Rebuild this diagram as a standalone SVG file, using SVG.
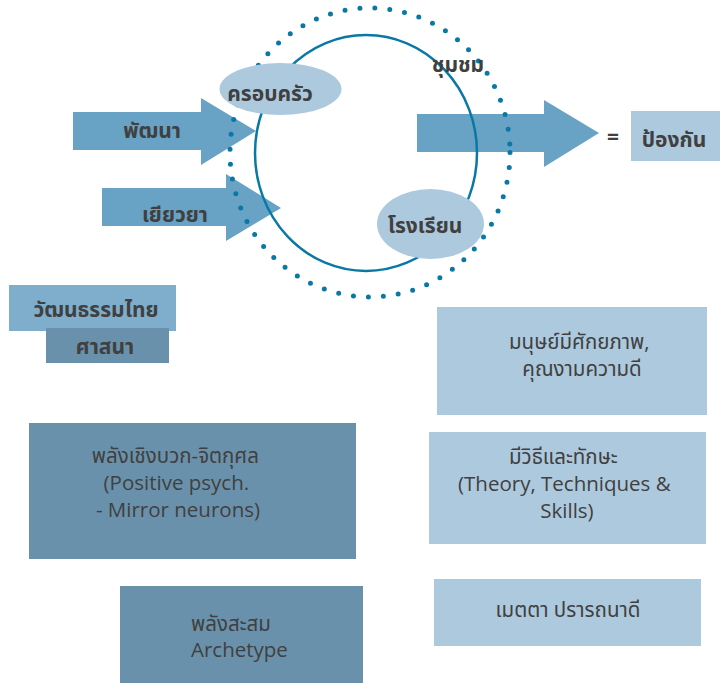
<svg xmlns="http://www.w3.org/2000/svg" width="720" height="686" viewBox="0 0 720 686">
  <style>
    text { font-family: "Open Sans", "Noto Sans", "Noto Sans Thai", sans-serif; fill: #404040; }
    .lbl { font-size: 21px; font-weight: bold; }
    .body { font-size: 20.5px; }
    .arrow { fill: #68a2c5; }
    .pale { fill: #adc9de; }
    .mid { fill: #7eaecb; }
    .dark { fill: #6a91ab; }
  </style>

  <!-- incoming / outgoing block arrows -->
  <g id="connectors">
    <polygon id="arrow-develop" class="arrow" points="73,112 201,112 201,98 256,131 201,165 201,150 73,150"/>
    <polygon id="arrow-heal" class="arrow" points="102,188 226,188 226,174 281,208 226,241 226,226 102,226"/>
    <polygon id="arrow-out" class="arrow" points="417,114 544,114 544,100 599,133 544,167 544,152 417,152"/>
  </g>

  <!-- inner ring and dotted outer ring -->
  <g id="rings">
    <ellipse cx="366" cy="153" rx="111" ry="118" fill="none" stroke="#0a78a5" stroke-width="2.5"/>
    <ellipse cx="370" cy="152.5" rx="140" ry="144.5" fill="none" stroke="#0a78a5" stroke-width="5" stroke-linecap="round" stroke-dasharray="0 15"/>
  </g>

  <g id="node-family">
    <ellipse class="pale" cx="280.5" cy="89" rx="61" ry="26"/>
    <text class="lbl" x="270" y="101" text-anchor="middle">ครอบครัว</text>
  </g>
  <g id="node-school">
    <ellipse class="pale" cx="430.5" cy="224" rx="53.5" ry="35"/>
    <text class="lbl" x="425" y="233" text-anchor="middle">โรงเรียน</text>
  </g>
  <g id="node-community">
    <text class="lbl" x="458" y="72" text-anchor="middle" font-size="19">ชุมชม</text>
  </g>
  <g id="label-develop">
    <text class="lbl" x="152" y="138" text-anchor="middle">พัฒนา</text>
  </g>
  <g id="label-heal">
    <text class="lbl" x="175" y="222" text-anchor="middle">เยียวยา</text>
  </g>
  <g id="label-equals">
    <text class="lbl" x="613" y="144" text-anchor="middle">=</text>
  </g>
  <g id="node-prevent">
    <rect class="pale" x="631" y="111" width="89" height="50"/>
    <text class="lbl" x="674" y="147" text-anchor="middle">ป้องกัน</text>
  </g>

  <g id="node-culture">
    <rect class="mid" x="9" y="285" width="167" height="46"/>
    <text class="lbl" x="96" y="317" text-anchor="middle">วัฒนธรรมไทย</text>
  </g>
  <g id="node-religion">
    <rect class="dark" x="46" y="328" width="123" height="35"/>
    <text class="lbl" x="105" y="354" text-anchor="middle">ศาสนา</text>
  </g>

  <g id="node-positive">
    <rect class="dark" x="29" y="423" width="327" height="136"/>
    <text class="body" text-anchor="middle">
      <tspan x="178" y="463">พลังเชิงบวก-จิตกุศล</tspan>
      <tspan x="179" y="490">(Positive psych.</tspan>
      <tspan x="178" y="517">- Mirror neurons)</tspan>
    </text>
  </g>
  <g id="node-archetype">
    <rect class="dark" x="120" y="586" width="243" height="97"/>
    <text class="body">
      <tspan x="191" y="631">พลังสะสม</tspan>
      <tspan x="191" y="657">Archetype</tspan>
    </text>
  </g>

  <g id="node-potential">
    <rect class="pale" x="437" y="307" width="270" height="108"/>
    <text class="body" text-anchor="middle">
      <tspan x="582" y="349">มนุษย์มีศักยภาพ,</tspan>
      <tspan x="582" y="376">คุณงามความดี</tspan>
    </text>
  </g>
  <g id="node-skills">
    <rect class="pale" x="429" y="432" width="277" height="112"/>
    <text class="body" text-anchor="middle">
      <tspan x="566" y="464">มีวิธีและทักษะ</tspan>
      <tspan x="567" y="491">(Theory, Techniques &amp;</tspan>
      <tspan x="567" y="518">Skills)</tspan>
    </text>
  </g>
  <g id="node-kindness">
    <rect class="pale" x="434" y="579" width="267" height="67"/>
    <text class="body" x="568" y="617" text-anchor="middle">เมตตา ปรารถนาดี</text>
  </g>
</svg>
